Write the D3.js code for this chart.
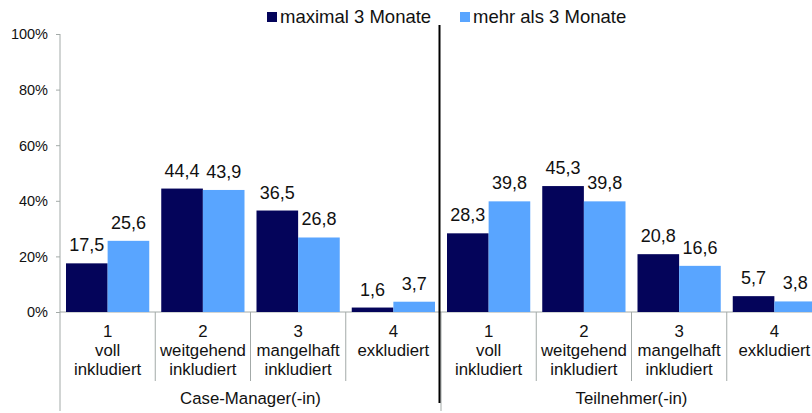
<!DOCTYPE html>
<html>
<head>
<meta charset="utf-8">
<script src="https://cdn.jsdelivr.net/npm/d3@7"></script>
<style>
  body { margin: 0; background: #fff; }
  text { font-family: "Liberation Sans", Arial, sans-serif; fill: #111; }
</style>
</head>
<body>
<div id="chart"></div>
<script>
// Data
const groups = ["Case-Manager(-in)", "Teilnehmer(-in)"];
const categoryNumbers = ["1", "2", "3", "4"];
const categoryNames = [["voll", "inkludiert"], ["weitgehend", "inkludiert"], ["mangelhaft", "inkludiert"], ["exkludiert"]];
const seriesNames = ["maximal 3 Monate", "mehr als 3 Monate"];
const shortTerm = [17.5, 44.4, 36.5, 1.6, 28.3, 45.3, 20.8, 5.7]; // maximal 3 Monate
const longTerm = [25.6, 43.9, 26.8, 3.7, 39.8, 39.8, 16.6, 3.8];  // mehr als 3 Monate
const yTicks = [0, 20, 40, 60, 80, 100];

const COLORS = { dark: "#04045a", light: "#59a5ff", axis: "#a3aaa8" };
const WIDTH = 812, HEIGHT = 413;
const plotLeft = 60, plotRight = 822, plotTop = 34, base = 312;

const keys = [];
groups.forEach((g, gi) => categoryNumbers.forEach((c, ci) => keys.push({ g: gi, c: ci, key: gi + "-" + ci })));
const values = keys.map((k, i) => [shortTerm[i], longTerm[i]]);

const svg = d3.select("#chart").append("svg")
  .attr("width", WIDTH).attr("height", HEIGHT);

const x0 = d3.scaleBand().domain(keys.map(d => d.key)).range([plotLeft, plotRight]);
const x1 = d3.scaleBand().domain([0, 1]).range([6, x0.bandwidth() - 6]);
const y = d3.scaleLinear().domain([0, 100]).range([base, plotTop]);
const gx = d3.scaleBand().domain(d3.range(groups.length)).range([plotLeft, plotRight]);

// y axis
const yAxis = svg.append("g").attr("transform", `translate(${plotLeft},0)`)
  .call(d3.axisLeft(y).tickValues(yTicks).tickFormat(d => d + "%").tickSize(4).tickPadding(8));
yAxis.select(".domain").remove();
yAxis.selectAll("line").attr("stroke", COLORS.axis);
yAxis.selectAll("text").attr("font-size", 14.5).attr("dy", "0.34em")
  .style("font-family", "'Liberation Sans', Arial, sans-serif").attr("fill", "#222");
svg.append("line").attr("x1", plotLeft).attr("x2", plotLeft).attr("y1", plotTop).attr("y2", 411)
  .attr("stroke", COLORS.axis);

// x axis line and dividers
svg.append("line").attr("x1", plotLeft).attr("x2", plotRight).attr("y1", base).attr("y2", base)
  .attr("stroke", COLORS.axis);
keys.forEach(k => {
  const xs = x0(k.key) + x0.bandwidth();
  const isGroupEdge = k.c === categoryNumbers.length - 1;
  svg.append("line").attr("x1", xs).attr("x2", xs).attr("y1", base)
    .attr("y2", isGroupEdge ? 411 : 381).attr("stroke", COLORS.axis);
});

// bars
const cat = svg.selectAll(".cat").data(keys).enter().append("g")
  .attr("class", "cat").attr("transform", d => `translate(${x0(d.key)},0)`);
cat.selectAll("rect").data((d, i) => values[i]).enter().append("rect")
  .attr("x", (v, j) => x1(j)).attr("width", x1.bandwidth())
  .attr("y", v => y(v)).attr("height", v => base - y(v))
  .attr("fill", (v, j) => j === 0 ? COLORS.dark : COLORS.light);
cat.selectAll(".val").data((d, i) => values[i]).enter().append("text")
  .attr("class", "val")
  .attr("x", (v, j) => x1(j) + x1.bandwidth() / 2).attr("y", v => y(v) - 12)
  .attr("text-anchor", "middle").attr("font-size", 18)
  .text(v => d3.format(".1f")(v).replace(".", ","));

// category labels
cat.each(function (d) {
  const lines = [categoryNumbers[d.c]].concat(categoryNames[d.c]);
  const t = d3.select(this).append("text").attr("text-anchor", "middle").attr("font-size", 16.8);
  lines.forEach((l, i) => t.append("tspan").attr("x", x0.bandwidth() / 2).attr("y", 337 + i * 19).text(l));
});

// group labels
svg.selectAll(".grp").data(groups).enter().append("text")
  .attr("x", (d, i) => gx(i) + gx.bandwidth() / 2).attr("y", 404)
  .attr("text-anchor", "middle").attr("font-size", 16.8).text(d => d);

// separator between groups
svg.append("line").attr("x1", gx(1) - 1.5).attr("x2", gx(1) - 1.5).attr("y1", 25).attr("y2", 403)
  .attr("stroke", "#000").attr("stroke-width", 2);

// legend
const legendX = [267, 460];
const legend = svg.selectAll(".leg").data(seriesNames).enter().append("g")
  .attr("transform", (d, i) => `translate(${legendX[i]},12)`);
legend.append("rect").attr("width", 10).attr("height", 10)
  .attr("fill", (d, i) => i === 0 ? COLORS.dark : COLORS.light);
legend.append("text").attr("x", 13).attr("y", 10.5).attr("font-size", 18.5).text(d => d);
</script>
</body>
</html>
